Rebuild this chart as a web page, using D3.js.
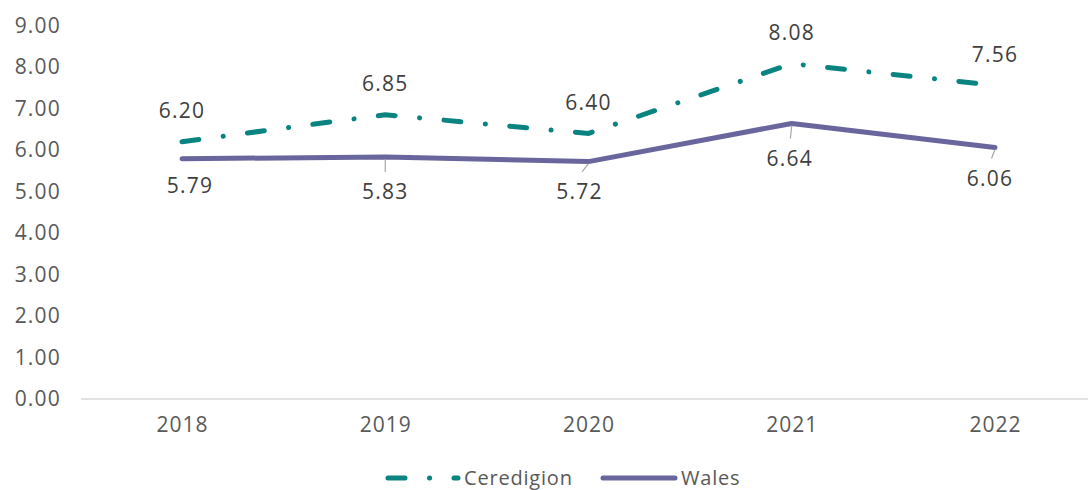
<!DOCTYPE html>
<html>
<head>
<meta charset="utf-8">
<script src="https://cdn.jsdelivr.net/npm/d3@7"></script>
<style>
  body { margin: 0; background: #fff; }
  text { font-family: 'Open Sans', sans-serif; }
</style>
</head>
<body>
<script>
const w = 1088;
const h = 490;

const years = ['2018', '2019', '2020', '2021', '2022'];
const ceredigion = [6.20, 6.85, 6.40, 8.08, 7.56];
const wales = [5.79, 5.83, 5.72, 6.64, 6.06];
const yTicks = [0, 1, 2, 3, 4, 5, 6, 7, 8, 9];

// label nudges for the Wales labels (dx, dy from the point)
const walesLabelNudge = [[8, 27], [0, 35], [-9, 30], [-2, 35], [-5, 31]];

const svg = d3.select('body')
  .append('svg')
  .attr('width', w)
  .attr('height', h);

const x = d3.scalePoint()
  .domain(years)
  .range([182, 995]);

const y = d3.scaleLinear()
  .domain([0, 9])
  .range([399, 25.5]);

// y tick labels
svg.selectAll('.ytick')
  .data(yTicks)
  .enter()
  .append('text')
  .attr('class', 'ytick')
  .attr('x', 61)
  .attr('y', d => y(d))
  .attr('dy', '0.35em')
  .attr('text-anchor', 'end')
  .style('font-size', '21px')
  .style('letter-spacing', '1.2px')
  .style('fill', '#595959')
  .text(d => d.toFixed(2));

// x axis
const xAxis = svg.append('g')
  .attr('transform', `translate(0,${y(0)})`)
  .call(d3.axisBottom(x).tickSize(0).tickPadding(18));
xAxis.select('.domain').remove();
xAxis.selectAll('text')
  .style('font-size', '21px')
  .style('letter-spacing', '1px')
  .style('font-family', "'Open Sans', sans-serif")
  .style('fill', '#595959');
xAxis.append('line')
  .attr('x1', 81)
  .attr('x2', w)
  .attr('stroke', '#d9d9d9')
  .attr('stroke-width', 1.5);

const line = d3.line()
  .x((d, i) => x(years[i]))
  .y(d => y(d));

svg.append('path')
  .datum(wales)
  .attr('d', line)
  .attr('fill', 'none')
  .attr('stroke', '#68669c')
  .attr('stroke-width', 5)
  .attr('stroke-linejoin', 'round')
  .attr('stroke-linecap', 'round');

svg.append('path')
  .datum(ceredigion)
  .attr('d', line)
  .attr('fill', 'none')
  .attr('stroke', '#0a8480')
  .attr('stroke-width', 5)
  .attr('stroke-linecap', 'round')
  .attr('stroke-dasharray', '17,24.5,0.1,24.4');

// Ceredigion labels above
svg.selectAll('.clab')
  .data(ceredigion)
  .enter()
  .append('text')
  .attr('class', 'clab')
  .attr('x', (d, i) => x(years[i]))
  .attr('y', d => y(d) - 31)
  .attr('dy', '0.35em')
  .attr('text-anchor', 'middle')
  .style('font-size', '21px')
  .style('letter-spacing', '1.2px')
  .style('fill', '#404040')
  .text(d => d.toFixed(2));

// leader lines for Wales labels
svg.selectAll('.leader')
  .data(wales)
  .enter()
  .filter((d, i) => i > 0)
  .append('line')
  .attr('class', 'leader')
  .attr('x1', (d, i) => x(years[i + 1]))
  .attr('y1', d => y(d) + 2)
  .attr('x2', (d, i) => x(years[i + 1]) + walesLabelNudge[i + 1][0] * 0.7)
  .attr('y2', (d, i) => y(d) + walesLabelNudge[i + 1][1] - 20)
  .attr('stroke', '#a6a6a6')
  .attr('stroke-width', 1.2);

svg.selectAll('.wlab')
  .data(wales)
  .enter()
  .append('text')
  .attr('class', 'wlab')
  .attr('x', (d, i) => x(years[i]) + walesLabelNudge[i][0])
  .attr('y', (d, i) => y(d) + walesLabelNudge[i][1])
  .attr('dy', '0.35em')
  .attr('text-anchor', 'middle')
  .style('font-size', '21px')
  .style('letter-spacing', '1.2px')
  .style('fill', '#404040')
  .text(d => d.toFixed(2));

// legend
const legendItems = [
  { name: 'Ceredigion', color: '#0a8480', dash: '17,24.5,0.1,24.4', x1: 388, x2: 458 },
  { name: 'Wales', color: '#68669c', dash: null, x1: 603, x2: 675 }
];
const ly = 478;
const legend = svg.selectAll('.legend')
  .data(legendItems)
  .enter()
  .append('g')
  .attr('class', 'legend');
legend.append('line')
  .attr('x1', d => d.x1)
  .attr('x2', d => d.x2)
  .attr('y1', ly)
  .attr('y2', ly)
  .attr('stroke', d => d.color)
  .attr('stroke-width', 5)
  .attr('stroke-linecap', 'round')
  .attr('stroke-dasharray', d => d.dash);
legend.append('text')
  .attr('x', d => d.x2 + 6)
  .attr('y', ly)
  .attr('dy', '0.35em')
  .style('font-size', '20px')
  .style('letter-spacing', '0.8px')
  .style('fill', '#595959')
  .text(d => d.name);
</script>
</body>
</html>
